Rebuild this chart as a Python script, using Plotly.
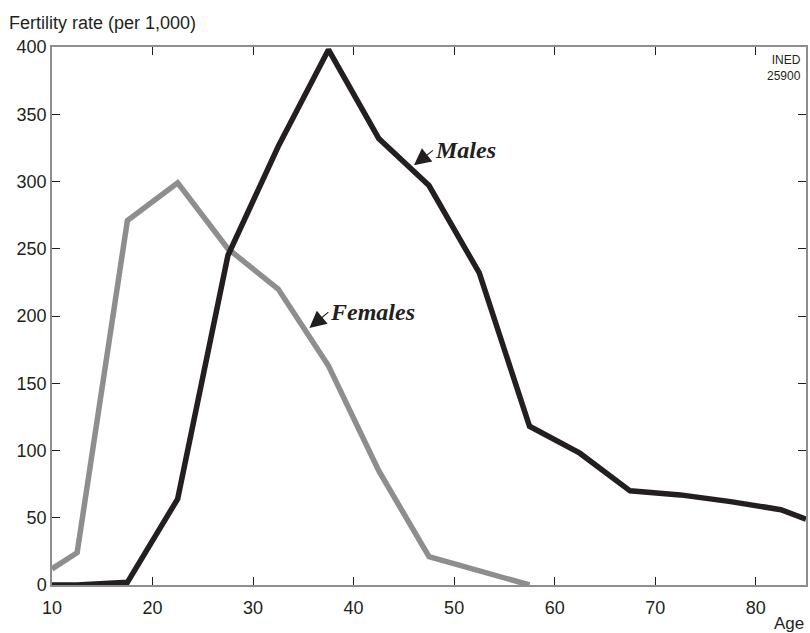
import plotly.graph_objects as go

ages = [10, 12.5, 17.5, 22.5, 27.5, 32.5, 37.5, 42.5, 47.5, 52.5, 57.5, 62.5, 67.5, 72.5, 77.5, 82.5, 85]
males = [0, 0, 2, 64, 245, 326, 398, 332, 297, 232, 118, 98, 70, 67, 62, 56, 49]
female_ages = [10, 12.5, 17.5, 22.5, 27.5, 32.5, 37.5, 42.5, 47.5, 52.5, 57.5]
females = [12, 24, 271, 299, 250, 220, 163, 85, 21, 11, 0]
x_ticks = [10, 20, 30, 40, 50, 60, 70, 80]
y_ticks = [0, 50, 100, 150, 200, 250, 300, 350, 400]

SANS = "Liberation Sans, Arial, Helvetica, sans-serif"
SERIF = "Liberation Serif, Times New Roman, serif"
INK = "#231f20"

fig = go.Figure()
fig.add_trace(go.Scatter(x=female_ages, y=females, mode="lines",
                         line=dict(color="#8e8e8e", width=5.5), name="Females"))
fig.add_trace(go.Scatter(x=ages, y=males, mode="lines",
                         line=dict(color=INK, width=5.5), name="Males"))

axis_common = dict(showgrid=False, zeroline=False, ticks="inside", ticklen=8,
                   tickcolor=INK, tickwidth=1, showline=True, linecolor="#8e8e8e",
                   linewidth=1.5, mirror="ticks",
                   tickfont=dict(family=SANS, size=18, color=INK))

fig.update_xaxes(range=[10, 85], tickvals=x_ticks, ticktext=[str(v) for v in x_ticks],
                 ticklabelstandoff=6, **axis_common)
fig.update_yaxes(range=[0, 400], tickvals=y_ticks, ticktext=[str(v) for v in y_ticks], **axis_common)

fig.update_layout(
    width=810, height=633,
    margin=dict(l=52, r=2, t=47, b=48),
    plot_bgcolor="white", paper_bgcolor="white",
    showlegend=False,
    annotations=[
        dict(text="Fertility rate (per 1,000)", xref="paper", yref="paper", x=-0.0595, y=1.0,
             yshift=12, xanchor="left", yanchor="bottom", showarrow=False,
             font=dict(family=SANS, size=18, color=INK)),
        dict(text="Age", xref="paper", yref="paper", x=1.0, y=0, yshift=-27, xanchor="right",
             yanchor="top", showarrow=False,
             font=dict(family=SANS, size=17, color=INK)),
        dict(text="INED<br>25900", xref="paper", yref="paper", x=0.996, y=0.993, xanchor="right",
             yanchor="top", showarrow=False, align="right",
             font=dict(family=SANS, size=12, color=INK)),
        dict(text="<b><i>Males</i></b>", x=46.0, y=312, xref="x", yref="y", showarrow=True,
             arrowhead=2, arrowsize=2.8, arrowwidth=1.2, arrowcolor=INK,
             ax=19, ay=-15, xanchor="left", yanchor="middle",
             font=dict(family=SERIF, size=24, color=INK)),
        dict(text="<b><i>Females</i></b>", x=35.6, y=191, xref="x", yref="y", showarrow=True,
             arrowhead=2, arrowsize=2.8, arrowwidth=1.2, arrowcolor=INK,
             ax=19, ay=-16, xanchor="left", yanchor="middle",
             font=dict(family=SERIF, size=24, color=INK)),
    ],
)

fig.write_html("out.html", config={"displayModeBar": False},
               post_script="document.body.style.margin='0';document.body.style.overflow='hidden';")
